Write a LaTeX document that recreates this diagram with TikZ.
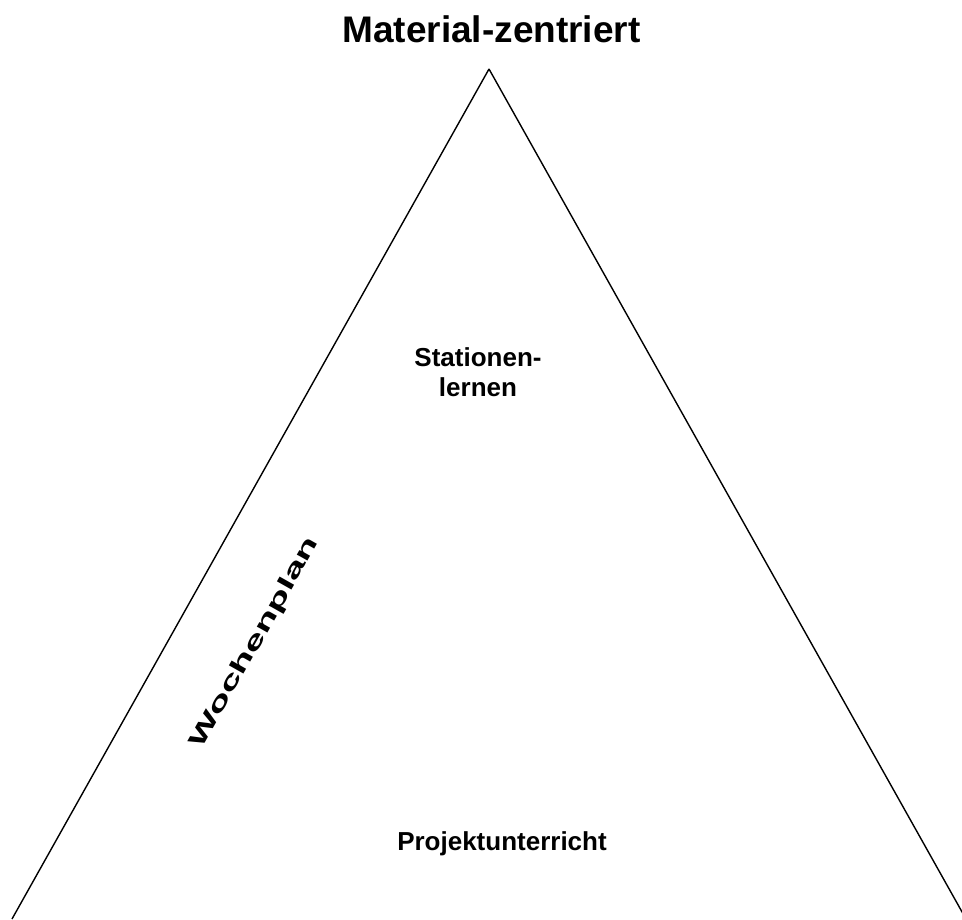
\documentclass[tikz,border=0pt]{standalone}
\usepackage{fontspec}
\setmainfont{Liberation Sans}

\begin{document}
\begin{tikzpicture}[
  x=1pt, y=-1pt,
  font=\bfseries,
  side/.style  ={draw=black, line width=1.4pt},
  title/.style ={anchor=base, inner sep=0pt, font=\fontsize{37}{44}\bfseries\selectfont},
  method/.style={inner sep=0pt, align=center, font=\fontsize{26}{30}\bfseries\selectfont},
  slant/.style ={inner sep=0pt, rotate=60.5, font=\fontsize{23}{28}\bfseries\selectfont},
]
\useasboundingbox (0,0) rectangle (962,920);
\clip (0,0) rectangle (962,920);

% ---- triangle ----
\coordinate (top)   at (489,69);
\coordinate (left)  at (12,919);
\coordinate (right) at (966,919);
\draw[side] (top) -- (left);
\draw[side] (top) -- (right);

% ---- labels ----
\node[title] (mat) at (491.5,43) {Material-zentriert};
\node[method] (stat) at (478,372.5) {Stationen-\\lernen};
\node[method, anchor=base] (proj) at (502,850) {Projektunterricht};
\node[slant] (woch) at (255,643) {\scalebox{1.75}[1]{Wochenplan}};

\end{tikzpicture}
\end{document}
